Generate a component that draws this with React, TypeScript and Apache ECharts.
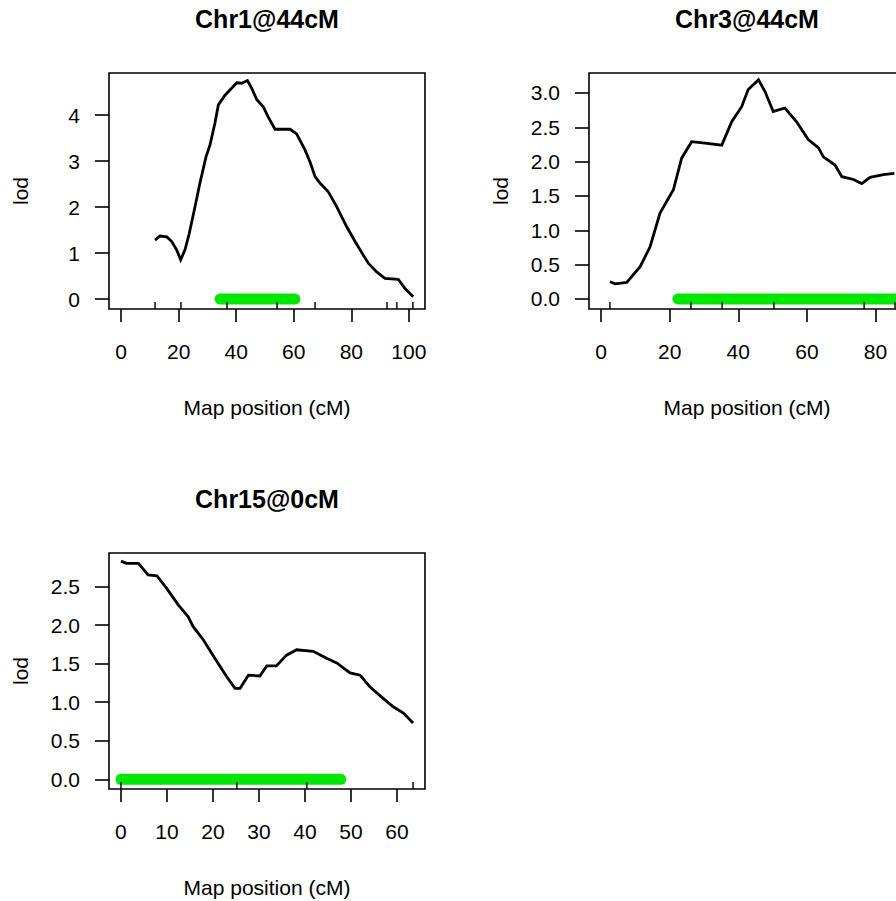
import React, { useEffect, useRef } from "react";
import * as echarts from "echarts";

// ---- Data ----
const chr1Pos = [11.8, 13.5, 15.9, 17.6, 19.3, 20.7, 22.2, 23.7, 25.7, 27.4, 29.5, 30.9, 32.6, 33.8, 36.1, 38.4, 40.2, 41.9, 43.9, 45.4, 47.1, 49.4, 51.1, 53.5, 58.7, 61.0, 63.9, 65.6, 67.4, 69.1, 72.0, 74.9, 78.4, 81.3, 84.1, 85.9, 88.8, 91.7, 96.3, 98.6, 101.5];
const chr1Lod = [1.28, 1.37, 1.35, 1.25, 1.07, 0.85, 1.07, 1.43, 2.01, 2.52, 3.09, 3.35, 3.82, 4.22, 4.43, 4.58, 4.7, 4.69, 4.75, 4.58, 4.34, 4.18, 3.96, 3.69, 3.69, 3.59, 3.24, 2.99, 2.66, 2.52, 2.33, 2.01, 1.57, 1.25, 0.96, 0.78, 0.59, 0.45, 0.43, 0.23, 0.05];
const chr1Markers = [11.8, 20.8, 36.8, 54.2, 67.4, 92.4, 95.8, 101.4];
const chr1Interval = [34.4, 60.4];

const chr3Pos = [2.6, 4.1, 7.5, 11.4, 14.3, 17.2, 21.1, 23.5, 26.4, 30.3, 35.2, 38.1, 41.0, 42.9, 45.9, 47.8, 50.2, 53.6, 57.0, 60.4, 63.4, 64.8, 68.2, 70.2, 73.6, 76.0, 78.4, 82.3, 85.5];
const chr3Lod = [0.25, 0.22, 0.24, 0.47, 0.76, 1.25, 1.59, 2.05, 2.29, 2.27, 2.24, 2.58, 2.8, 3.05, 3.19, 3.02, 2.73, 2.78, 2.58, 2.32, 2.2, 2.07, 1.95, 1.78, 1.74, 1.68, 1.77, 1.81, 1.83];
const chr3Markers = [2.6, 26.2, 35.3, 50.4, 76.7, 85.7];
const chr3Interval = [22.4, 85.7];

const chr15Pos = [0, 1.2, 3.8, 5.9, 7.8, 9.9, 12.5, 14.6, 15.7, 17.9, 20.4, 23.0, 24.8, 25.9, 27.7, 30.2, 31.7, 33.8, 36.0, 38.2, 41.8, 44.7, 46.9, 49.8, 52.0, 54.1, 57.0, 59.2, 61.4, 63.5];
const chr15Lod = [2.83, 2.8, 2.8, 2.65, 2.64, 2.48, 2.26, 2.11, 1.98, 1.81, 1.57, 1.33, 1.18, 1.18, 1.35, 1.34, 1.47, 1.47, 1.61, 1.68, 1.66, 1.57, 1.51, 1.38, 1.35, 1.2, 1.05, 0.94, 0.86, 0.73];
const chr15Markers = [0, 25.2, 40.4, 63.5];
const chr15Interval = [0, 47.8];

const titles = ["Chr1@44cM", "Chr3@44cM", "Chr15@0cM"];
const xTicks1 = [0, 20, 40, 60, 80, 100];
const xTicks2 = [0, 20, 40, 60, 80];
const xTicks3 = [0, 10, 20, 30, 40, 50, 60];
const yTicks1 = [0, 1, 2, 3, 4];
const yTicks2 = [0, 0.5, 1.0, 1.5, 2.0, 2.5, 3.0];
const yTicks3 = [0, 0.5, 1.0, 1.5, 2.0, 2.5];

const FONT = '"Liberation Sans", Arial, sans-serif';

type Panel = {
  pos: number[];
  lod: number[];
  markers: number[];
  interval: number[];
  xTicks: number[];
  yTicks: number[];
  xRange: [number, number];
  yRange: [number, number];
  grid: { left: number; top: number; width: number; height: number };
  yDec: number;
  title: string;
  titleXY: [number, number];
};

const panels: Panel[] = [
  {
    pos: chr1Pos, lod: chr1Lod, markers: chr1Markers, interval: chr1Interval,
    xTicks: xTicks1, yTicks: yTicks1, xRange: [-4.2, 105.6], yRange: [-0.217, 4.913],
    grid: { left: 109, top: 73, width: 316, height: 236 }, yDec: 0,
    title: titles[0], titleXY: [267, 19],
  },
  {
    pos: chr3Pos, lod: chr3Lod, markers: chr3Markers, interval: chr3Interval,
    xTicks: xTicks2, yTicks: yTicks2, xRange: [-3.5, 88.6], yRange: [-0.146, 3.29],
    grid: { left: 589, top: 73, width: 316, height: 236 }, yDec: 1,
    title: titles[1], titleXY: [747, 19],
  },
  {
    pos: chr15Pos, lod: chr15Lod, markers: chr15Markers, interval: chr15Interval,
    xTicks: xTicks3, yTicks: yTicks3, xRange: [-2.6, 66.1], yRange: [-0.126, 2.935],
    grid: { left: 109, top: 553, width: 316, height: 236 }, yDec: 1,
    title: titles[2], titleXY: [267, 499],
  },
];

function buildOption() {
  const grid: any[] = [];
  const xAxis: any[] = [];
  const yAxis: any[] = [];
  const series: any[] = [];
  const graphic: any[] = [];
  panels.forEach((p, i) => {
    grid.push({
      ...p.grid,
      show: true,
      containLabel: false,
      outerBoundsMode: "none",
      borderColor: "#000",
      borderWidth: 1.6,
      backgroundColor: "transparent",
    });
    xAxis.push({
      type: "value",
      gridIndex: i,
      min: p.xRange[0],
      max: p.xRange[1],
      name: "Map position (cM)",
      nameLocation: "middle",
      nameGap: 88,
      nameTextStyle: { fontSize: 21, fontFamily: FONT, color: "#000" },
      axisLine: { show: false, onZero: false },
      axisTick: {
        show: true,
        length: 13,
        customValues: p.xTicks,
        lineStyle: { color: "#000", width: 1.6 },
      },
      axisLabel: {
        show: true,
        customValues: p.xTicks,
        margin: 32,
        fontSize: 21,
        fontFamily: FONT,
        color: "#000",
        formatter: (v: number) => String(v),
      },
      splitLine: { show: false },
    });
    yAxis.push({
      type: "value",
      gridIndex: i,
      min: p.yRange[0],
      max: p.yRange[1],
      name: "lod",
      nameLocation: "middle",
      nameGap: 78,
      nameTextStyle: { fontSize: 21, fontFamily: FONT, color: "#000" },
      axisLine: { show: false, onZero: false },
      axisTick: {
        show: true,
        length: 14,
        customValues: p.yTicks,
        lineStyle: { color: "#000", width: 1.6 },
      },
      axisLabel: {
        show: true,
        customValues: p.yTicks,
        margin: 29,
        fontSize: 21,
        fontFamily: FONT,
        color: "#000",
        formatter: (v: number) => v.toFixed(p.yDec),
      },
      splitLine: { show: false },
    });
    series.push({
      type: "line",
      xAxisIndex: i,
      yAxisIndex: i,
      data: [
        [p.interval[0], 0],
        [p.interval[1], 0],
      ],
      symbol: "none",
      lineStyle: { color: "#00e600", width: 11, cap: "round" },
      silent: true,
      z: 2,
    });
    series.push({
      type: "line",
      xAxisIndex: i,
      yAxisIndex: i,
      data: p.pos.map((x, k) => [x, p.lod[k]]),
      symbol: "none",
      lineStyle: { color: "#000", width: 2.8, join: "miter" },
      silent: true,
      z: 3,
    });
    series.push({
      type: "scatter",
      xAxisIndex: i,
      yAxisIndex: i,
      data: p.markers.map((m) => [m, p.yRange[0]]),
      symbol: "rect",
      symbolSize: [1.8, 7],
      symbolOffset: [0, -3.5],
      itemStyle: { color: "#000" },
      clip: false,
      silent: true,
      z: 4,
    });
    graphic.push({
      type: "text",
      x: p.titleXY[0],
      y: p.titleXY[1],
      style: {
        text: p.title,
        fontSize: 25,
        fontWeight: "bold",
        fontFamily: FONT,
        fill: "#000",
        align: "center",
        verticalAlign: "middle",
      },
    });
  });
  return {
    animation: false,
    backgroundColor: "#fff",
    grid,
    xAxis,
    yAxis,
    series,
    graphic,
  };
}

export default function App() {
  const ref = useRef<HTMLDivElement>(null);
  useEffect(() => {
    if (!ref.current) return;
    const chart = echarts.init(ref.current, undefined, { renderer: "svg" });
    chart.setOption(buildOption() as any);
    return () => chart.dispose();
  }, []);
  return (
    <div
      ref={ref}
      style={{
        position: "fixed",
        left: 0,
        top: 0,
        width: 896,
        height: 901,
        overflow: "hidden",
        background: "#fff",
      }}
    />
  );
}
